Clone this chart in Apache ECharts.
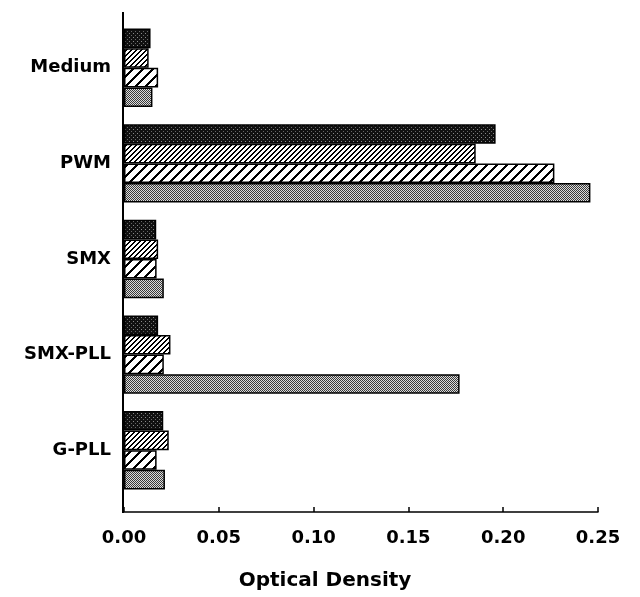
<!DOCTYPE html>
<html>
<head>
<meta charset="utf-8">
<script src="https://cdn.jsdelivr.net/npm/echarts@6/dist/echarts.min.js"></script>
<style>
  html, body { margin: 0; padding: 0; background: #fff; }
  #chart { width: 640px; height: 597px; }
</style>
</head>
<body>
<div id="chart"></div>
<script>
var categories = ['Medium', 'PWM', 'SMX', 'SMX-PLL', 'G-PLL'];
var darkDots = [0.014, 0.196, 0.017, 0.018, 0.0207];
var fineHatch = [0.013, 0.1855, 0.018, 0.0245, 0.0236];
var wideHatch = [0.018, 0.227, 0.0172, 0.021, 0.0172];
var grayDots = [0.015, 0.246, 0.021, 0.177, 0.0216];
var xTicks = [0, 0.05, 0.10, 0.15, 0.20, 0.25];

// small canvas tiles used as fill patterns
function tile(size, draw) {
    var c = document.createElement('canvas');
    c.width = size;
    c.height = size;
    draw(c.getContext('2d'), size);
    return c;
}

// "/" hatch drawn pixel by pixel so it stays crisp
function hatch(size, w) {
    return tile(size, function(ctx, s) {
        ctx.fillStyle = '#fff';
        ctx.fillRect(0, 0, s, s);
        ctx.fillStyle = '#000';
        for (var y = 0; y < s; y++) {
            for (var x = 0; x < s; x++) {
                if ((x + y) % s < w) ctx.fillRect(x, y, 1, 1);
            }
        }
    });
}

var patDark = tile(4, function(ctx, s) {
    ctx.fillStyle = '#111';
    ctx.fillRect(0, 0, s, s);
    ctx.fillStyle = '#8a8a8a';
    ctx.fillRect(1, 1, 1, 1);
    ctx.fillStyle = '#666';
    ctx.fillRect(3, 3, 1, 1);
});
var patFine = hatch(5, 2);
var patWide = hatch(10, 3);
var patGray = tile(2, function(ctx, s) {
    ctx.fillStyle = '#dcdcdc';
    ctx.fillRect(0, 0, s, s);
    ctx.fillStyle = '#3a3a3a';
    ctx.fillRect(0, 0, 1, 1);
    ctx.fillRect(1, 1, 1, 1);
});

function bar(name, data, pat) {
    return {
        name: name,
        type: 'bar',
        data: data,
        barGap: '0%',
        barCategoryGap: '18%',
        itemStyle: {
            color: { image: pat, repeat: 'repeat' },
            borderColor: '#000',
            borderWidth: 1.5
        }
    };
}

var myChart = echarts.init(document.getElementById('chart'));
var option = {
    backgroundColor: '#fff',
    animation: false,
    grid: {
        left: 124,
        right: 42,
        top: 20,
        bottom: 99
    },
    xAxis: {
        type: 'value',
        min: 0,
        max: 0.25,
        interval: 0.05,
        offset: 14,
        name: 'Optical Density',
        nameLocation: 'middle',
        nameGap: 59,
        nameTextStyle: {
            fontFamily: 'DejaVu Sans',
            fontWeight: 'bold',
            fontSize: 20,
            color: '#000',
            padding: [0, 72, 0, 0]
        },
        axisLine: { show: true, lineStyle: { color: '#000', width: 1.5 } },
        axisTick: { show: true, inside: true, length: 5, lineStyle: { color: '#000', width: 1.5 } },
        splitLine: { show: false },
        axisLabel: {
            margin: 17,
            fontFamily: 'DejaVu Sans',
            fontWeight: 'bold',
            fontSize: 18,
            color: '#000',
            formatter: function(v) {
                var i = xTicks.indexOf(Math.round(v * 100) / 100);
                return i >= 0 ? xTicks[i].toFixed(2) : '';
            }
        }
    },
    yAxis: {
        type: 'category',
        data: categories,
        inverse: true,
        axisLine: { show: false },
        axisTick: { show: false },
        axisLabel: {
            margin: 13,
            fontFamily: 'DejaVu Sans',
            fontWeight: 'bold',
            fontSize: 18,
            color: '#000'
        }
    },
    graphic: [{
        type: 'line',
        shape: { x1: 123, y1: 12, x2: 123, y2: 513 },
        style: { stroke: '#000', lineWidth: 2 },
        z: 10
    }],
    series: [
        bar('Series 1', darkDots, patDark),
        bar('Series 2', fineHatch, patFine),
        bar('Series 3', wideHatch, patWide),
        bar('Series 4', grayDots, patGray)
    ]
};

myChart.setOption(option);
</script>
</body>
</html>
